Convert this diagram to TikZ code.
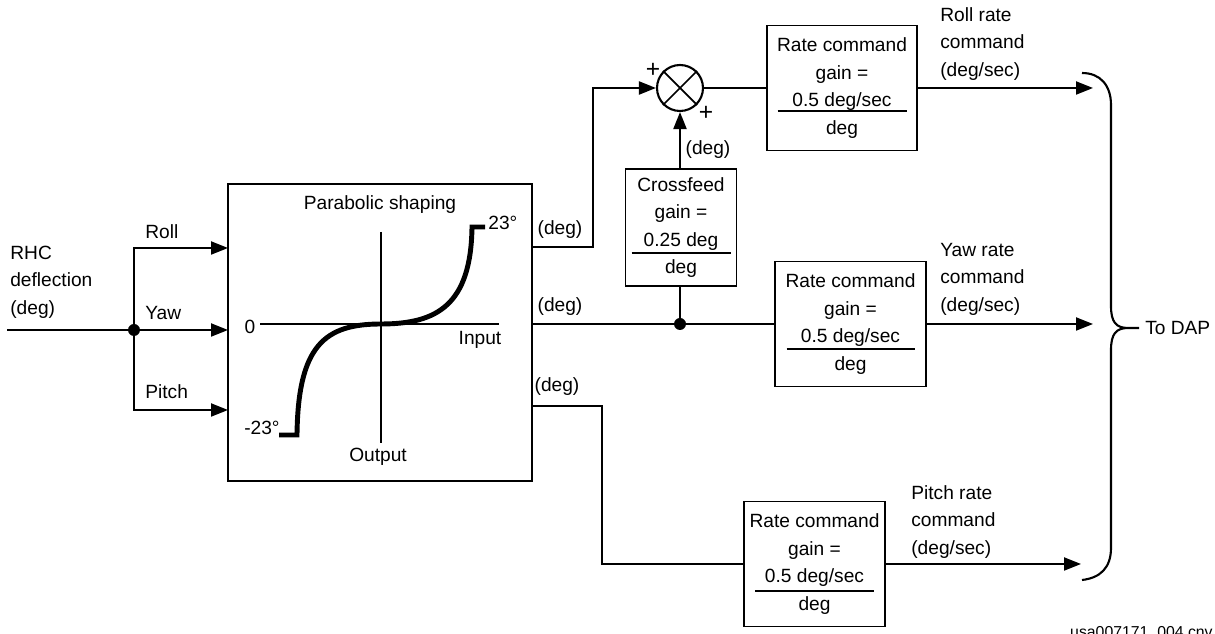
\documentclass[tikz,border=0pt]{standalone}
\usepackage{fontspec}
\setmainfont{Liberation Sans}
\usetikzlibrary{positioning,arrows.meta,calc}

\begin{document}
\begin{tikzpicture}[x=0.02cm,y=-0.02cm,
                    every node/.style={font=\fontsize{10.9}{15.6}\selectfont},
                    box/.style={draw,line width=0.8pt,inner sep=0pt},
                    gain/.style={box,align=center,minimum height=2.5cm},
                    wire/.style={line width=1.2pt},
                    arr/.style={wire,-{Triangle[length=3.4mm,width=2.6mm]}},
                    dot/.style={circle,fill,inner sep=0pt,minimum size=2.4mm},
                    lbl/.style={inner sep=0pt},
                    sign/.style={lbl,font=\fontsize{14}{14}\selectfont}]
  \useasboundingbox (0,0) rectangle (1215,634);

  % shaping block
  \node[box,minimum width=6.08cm,minimum height=5.94cm] (shape) at (380,332.5) {};
  \node[lbl] (title) at (380,205) {Parabolic shaping};
  \draw[line width=0.6pt] (260,324) -- (499,324);
  \draw[line width=0.6pt] (381,232) -- (381,443);
  \draw[line width=2.8pt] (279,435) -- (297,435)
        .. controls (298,345) and (325,324) .. (381,324)
        .. controls (437,324) and (471,305) .. (472,227) -- (485,227);
  \node[lbl,anchor=west] at (488,223) {23°};
  \node[lbl,anchor=east] at (280,428) {-23°};
  \node[lbl] at (250,327) {0};
  \node[lbl] at (480,340) {Input};
  \node[lbl] at (378,457) {Output};

  % input and split
  \coordinate (in) at (7,330);
  \node[dot] (split) at (134,330) {};
  \coordinate (rollin)  at (228,248);
  \coordinate (yawin)   at (228,330);
  \coordinate (pitchin) at (228,410);
  \node[lbl,anchor=west,align=left] at (10,282) {RHC\\deflection\\(deg)};
  \draw[wire] (in) -- (split);
  \draw[arr] (split) |- (rollin);
  \draw[arr] (split) -- (yawin);
  \draw[arr] (split) |- (pitchin);
  \node[lbl,anchor=west] at (145,232) {Roll};
  \node[lbl,anchor=west] at (145,313) {Yaw};
  \node[lbl,anchor=west] at (145,392) {Pitch};

  % gains
  \coordinate (rollout)  at (532,247);
  \coordinate (yawout)   at (532,324);
  \coordinate (pitchout) at (532,406);
  \node[circle,draw,line width=1.2pt,minimum size=0.92cm,inner sep=0pt] (sum) at (680,88) {};
  \draw[line width=1pt] (sum.north west) -- (sum.south east)
                        (sum.north east) -- (sum.south west);
  \node[sign] at (653,70) {+};
  \node[sign] at (706,113) {+};

  \node[gain,minimum width=3cm]    (rollgain)  at (842,88)    {Rate command\\gain =\\0.5 deg/sec\\deg};
  \node[gain,minimum width=2.22cm,minimum height=2.34cm]
                                   (cross)     at (681,227.5) {Crossfeed\\gain =\\0.25 deg\\deg};
  \node[gain,minimum width=3.02cm] (yawgain)   at (850.5,324) {Rate command\\gain =\\0.5 deg/sec\\deg};
  \node[gain,minimum width=2.82cm] (pitchgain) at (814.5,564) {Rate command\\gain =\\0.5 deg/sec\\deg};
  \draw[line width=0.8pt] ($(rollgain.center)+(-64.5,23)$)  -- ++(129,0);
  \draw[line width=0.8pt] ($(cross.center)+(-49.5,25.5)$)   -- ++(99,0);
  \draw[line width=0.8pt] ($(yawgain.center)+(-64,25)$)     -- ++(128,0);
  \draw[line width=0.8pt] ($(pitchgain.center)+(-59.5,27)$) -- ++(119,0);

  \node[dot] (tap) at (680,324) {};
  \draw[arr] (rollout) -- ++(61,0) |- (sum.west);
  \draw[wire] (sum) -- (rollgain);
  \draw[arr] (sum.south |- cross.north) -- (sum.south);
  \draw[wire] (yawout) -- (yawgain);
  \draw[wire] (tap) -- (tap |- cross.south);
  \draw[wire] (pitchout) -- ++(70,0) |- (pitchgain.west);
  \node[lbl] at (560,230) {(deg)};
  \node[lbl] at (560,307) {(deg)};
  \node[lbl] at (557,387) {(deg)};
  \node[lbl] at (708,150) {(deg)};

  % outputs
  \coordinate (dap1) at (1093,88);
  \coordinate (dap2) at (1093,324);
  \coordinate (dap3) at (1081,564);
  \draw[arr] (rollgain)  -- (dap1);
  \draw[arr] (yawgain)   -- (dap2);
  \draw[arr] (pitchgain) -- (dap3);
  \node[lbl,anchor=west,align=left] at (940,44)  {Roll rate\\command\\(deg/sec)};
  \node[lbl,anchor=west,align=left] at (940,279) {Yaw rate\\command\\(deg/sec)};
  \node[lbl,anchor=west,align=left] at (911,522) {Pitch rate\\command\\(deg/sec)};

  \coordinate (tip) at (1139,328);
  \draw[line width=1.2pt] (1082,73) .. controls (1100,73) and (1111,85) .. (1111,105)
        -- (1111,306) .. controls (1111,322) and (1116,328) .. (1128,328) -- (tip)
        (1128,328) .. controls (1116,328) and (1111,334) .. (1111,350)
        -- (1111,548) .. controls (1111,568) and (1100,578) .. (1082,580);
  \node[lbl,anchor=west] (dap) at (1145,328) {To DAP};

  \node[lbl,anchor=base east,font=\fontsize{9}{11}\selectfont] at (1213,638) {usa007171\_004.cnv};
\end{tikzpicture}
\end{document}
